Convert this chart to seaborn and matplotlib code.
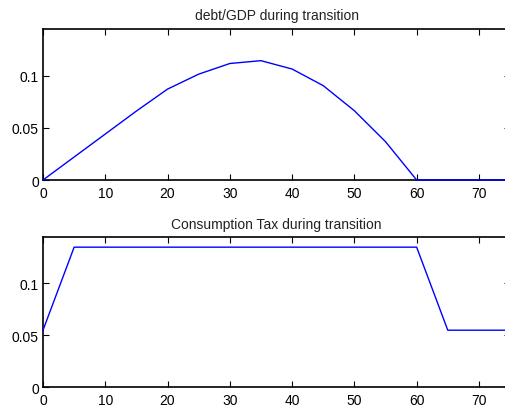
import numpy as np
import pandas as pd
import seaborn as sns
import matplotlib
matplotlib.use("Agg")
import matplotlib.pyplot as plt
from matplotlib.ticker import FixedLocator, FixedFormatter

# Transition periods (years)
periods = [0, 5, 10, 15, 20, 25, 30, 35, 40, 45, 50, 55, 60, 65, 70, 75]
# Debt-to-GDP ratio along the transition path
debt_gdp = [0.0, 0.022, 0.044, 0.066, 0.087, 0.1013, 0.1115, 0.1142,
            0.1062, 0.0903, 0.0663, 0.0367, 0.0, 0.0, 0.0, 0.0]
# Consumption tax rate along the transition path
cons_tax = [0.055, 0.135, 0.135, 0.135, 0.135, 0.135, 0.135, 0.135,
            0.135, 0.135, 0.135, 0.135, 0.135, 0.055, 0.055, 0.055]

titles = ["debt/GDP during transition", "Consumption Tax during transition"]
xticks = [0, 10, 20, 30, 40, 50, 60, 70]
yticks = [0, 0.05, 0.1]
ytick_labels = ["0", "0.05", "0.1"]

sns.set_theme(style="ticks")
plt.rcParams["font.family"] = ["Liberation Sans", "DejaVu Sans"]
plt.rcParams["xtick.direction"] = "in"
plt.rcParams["ytick.direction"] = "in"

df = pd.DataFrame({"t": periods, "debt": debt_gdp, "tax": cons_tax})

fig = plt.figure(figsize=(5.06, 4.14), dpi=100)
fig.patch.set_facecolor("white")
ax_top = fig.add_axes([0.085, 0.5628, 0.923, 0.3647])
ax_bot = fig.add_axes([0.085, 0.0621, 0.923, 0.3623])

for ax, col, title in zip([ax_top, ax_bot], ["debt", "tax"], titles):
    sns.lineplot(data=df, x="t", y=col, ax=ax, color="#0000ff", linewidth=1.0)
    for ln in ax.get_lines():
        ln.set_clip_on(False)
        ln.set_zorder(5)
    ax.set_xlim(0, 75)
    ax.set_ylim(0, 0.1445)
    ax.set_xlabel("")
    ax.set_ylabel("")
    ax.set_title(title, fontsize=10, color="#222222", pad=7)
    ax.xaxis.set_major_locator(FixedLocator(xticks))
    ax.yaxis.set_major_locator(FixedLocator(yticks))
    ax.yaxis.set_major_formatter(FixedFormatter(ytick_labels))
    ax.tick_params(axis="both", labelsize=10, length=4, width=0.8,
                   colors="black", top=True, right=True)
    ax.tick_params(axis="x", pad=4)
    ax.tick_params(axis="y", pad=3)
    for s in ax.spines.values():
        s.set_visible(True)
        s.set_linewidth(1.2)
        s.set_color("black")
        s.set_zorder(3)
    ax.set_facecolor("white")
    ax.grid(False)

fig.savefig("out.png", dpi=100)
